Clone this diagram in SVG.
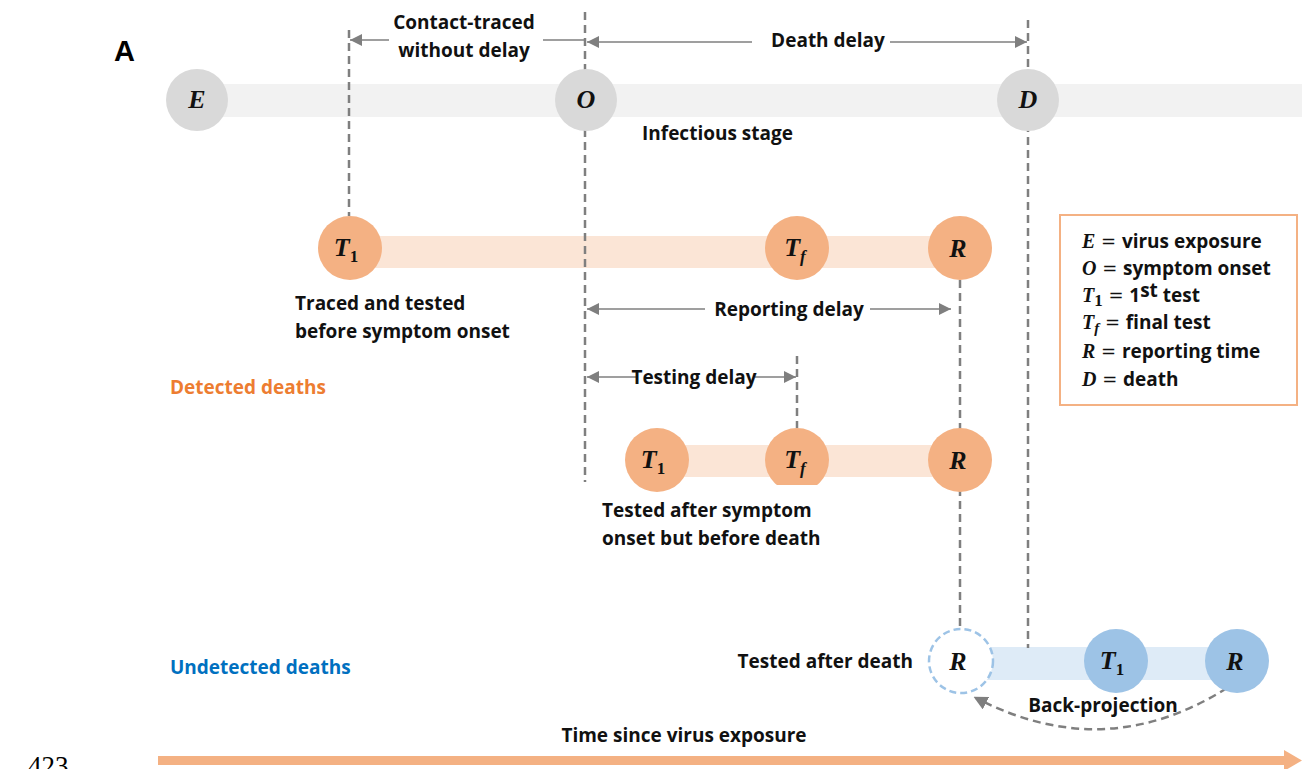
<svg xmlns="http://www.w3.org/2000/svg" width="1302" height="769" viewBox="0 0 1302 769">
<style>
.lbl{font-family:"Open Sans","Liberation Sans",sans-serif;font-weight:bold;font-size:19px;fill:#111}
.m{font-family:"Liberation Serif",serif;font-style:italic;font-weight:bold;font-size:26px;fill:#111}
.ms{font-family:"Liberation Serif",serif;font-style:normal;font-weight:bold;font-size:17px;fill:#111}
.mf{font-family:"Liberation Serif",serif;font-style:italic;font-weight:bold;font-size:17px;fill:#111}
.lm{font-family:"Liberation Serif",serif;font-style:italic;font-weight:bold;font-size:20px;fill:#111}
.eq{font-family:"DejaVu Serif",serif;font-size:18px;fill:#111}
.dash{stroke:#7f7f7f;stroke-width:2.5;stroke-dasharray:8 5;fill:none}
.arr{stroke:#7f7f7f;stroke-width:1.3;fill:none}
.gray{fill:#d9d9d9}
.org{fill:#f4b183}
.blu{fill:#9dc3e6}
</style>
<defs>
<marker id="ah" viewBox="0 0 10 10" refX="10" refY="5" markerWidth="13" markerHeight="12" markerUnits="userSpaceOnUse" orient="auto-start-reverse">
<path d="M0,0 L10,5 L0,10 z" fill="#7f7f7f"/>
</marker>
<marker id="ahb" viewBox="0 0 10 10" refX="8" refY="5" markerWidth="14" markerHeight="14" markerUnits="userSpaceOnUse" orient="auto">
<path d="M0,0 L10,5 L0,10 z" fill="#7f7f7f"/>
</marker>
<clipPath id="cut"><rect x="760" y="420" width="80" height="65"/></clipPath>
</defs>

<text x="114" y="61" font-family="Liberation Sans,Arial,sans-serif" font-weight="bold" font-size="29" fill="#000">A</text>

<g id="bars">
<rect x="197" y="84" width="1105" height="33" fill="#f2f2f2"/>
<rect x="350" y="236" width="610" height="32" fill="#fbe5d6"/>
<rect x="657" y="445" width="303" height="32" fill="#fbe5d6"/>
<rect x="960" y="647" width="277" height="33" fill="#deebf7"/>
</g>

<g id="connectors">
<line class="dash" x1="349" y1="30" x2="349" y2="216"/>
<line class="dash" x1="585" y1="12" x2="585" y2="482"/>
<line class="dash" x1="1028" y1="20" x2="1028" y2="648"/>
<line class="dash" x1="960" y1="280" x2="960" y2="630"/>
<line class="dash" x1="797" y1="356" x2="797" y2="428"/>
<line class="arr" x1="389" y1="40" x2="350" y2="40" marker-end="url(#ah)"/>
<line class="arr" x1="543" y1="40" x2="585" y2="40"/>
<line class="arr" x1="752" y1="42" x2="587" y2="42" marker-end="url(#ah)"/>
<line class="arr" x1="890" y1="42" x2="1027" y2="42" marker-end="url(#ah)"/>
<line class="arr" x1="705" y1="309" x2="587" y2="309" marker-end="url(#ah)"/>
<line class="arr" x1="870" y1="309" x2="951" y2="309" marker-end="url(#ah)"/>
<line class="arr" x1="636" y1="377" x2="587" y2="377" marker-end="url(#ah)"/>
<line class="arr" x1="755" y1="377" x2="796" y2="377" marker-end="url(#ah)"/>
<path class="dash" d="M1227,688 Q1105,765 976,698" marker-end="url(#ahb)"/>
<line x1="158" y1="760.5" x2="1286" y2="760.5" stroke="#f4b183" stroke-width="9"/>
<path d="M1284,750 L1302,760.5 L1284,771 z" fill="#f4b183"/>
</g>

<g id="node-E"><circle class="gray" cx="197" cy="100" r="31"/><text class="m" x="197" y="108" text-anchor="middle">E</text></g>
<g id="node-O"><circle class="gray" cx="586" cy="100" r="31"/><text class="m" x="586" y="108" text-anchor="middle">O</text></g>
<g id="node-D"><circle class="gray" cx="1028" cy="100" r="31"/><text class="m" x="1028" y="108" text-anchor="middle">D</text></g>

<g id="node-T1a"><circle class="org" cx="350" cy="248" r="32"/><text class="m" x="346" y="256" text-anchor="middle">T<tspan class="ms" dy="6">1</tspan></text></g>
<g id="node-Tfa"><circle class="org" cx="797" cy="248" r="32"/><text class="m" x="795" y="256" text-anchor="middle">T<tspan class="mf" dy="6">f</tspan></text></g>
<g id="node-Ra"><circle class="org" cx="960" cy="248" r="32"/><text class="m" x="958" y="257" text-anchor="middle">R</text></g>

<g id="node-T1b"><circle class="org" cx="657" cy="460" r="32"/><text class="m" x="653" y="468" text-anchor="middle">T<tspan class="ms" dy="6">1</tspan></text></g>
<g id="node-Tfb"><circle class="org" cx="797" cy="460" r="32" clip-path="url(#cut)"/><text class="m" x="795" y="468" text-anchor="middle">T<tspan class="mf" dy="6">f</tspan></text></g>
<g id="node-Rb"><circle class="org" cx="960" cy="460" r="32"/><text class="m" x="958" y="469" text-anchor="middle">R</text></g>

<g id="node-Rc"><circle cx="961" cy="661" r="32" fill="#fff" stroke="#9dc3e6" stroke-width="2.5" stroke-dasharray="7 4"/><text class="m" x="958" y="670" text-anchor="middle">R</text></g>
<g id="node-T1c"><circle class="blu" cx="1116" cy="661" r="32"/><text class="m" x="1112" y="669" text-anchor="middle">T<tspan class="ms" dy="6">1</tspan></text></g>
<g id="node-Rd"><circle class="blu" cx="1237" cy="661" r="32"/><text class="m" x="1235" y="670" text-anchor="middle">R</text></g>

<g id="labels">
<text class="lbl" x="464" y="29" text-anchor="middle">Contact-traced</text>
<text class="lbl" x="464" y="57" text-anchor="middle">without delay</text>
<text class="lbl" x="828" y="47" text-anchor="middle">Death delay</text>
<text class="lbl" x="642" y="140">Infectious stage</text>
<text class="lbl" x="295" y="310">Traced and tested</text>
<text class="lbl" x="295" y="338">before symptom onset</text>
<text class="lbl" x="789" y="316" text-anchor="middle">Reporting delay</text>
<text class="lbl" x="170" y="394" style="fill:#ed7d31">Detected deaths</text>
<text class="lbl" x="694" y="384" text-anchor="middle">Testing delay</text>
<text class="lbl" x="602" y="517">Tested after symptom</text>
<text class="lbl" x="602" y="545">onset but before death</text>
<text class="lbl" x="913" y="668" text-anchor="end">Tested after death</text>
<text class="lbl" x="170" y="674" style="fill:#0070c0">Undetected deaths</text>
<text class="lbl" x="1103" y="712" text-anchor="middle">Back-projection</text>
<text class="lbl" x="684" y="742" text-anchor="middle">Time since virus exposure</text>
<text x="28" y="775" font-family="Liberation Serif,serif" font-size="27" fill="#000">423</text>
</g>

<g id="legend">
<rect x="1060" y="215" width="237" height="190" fill="#fff" stroke="#f4b183" stroke-width="2"/>
<text x="1082" y="248"><tspan class="lm">E</tspan><tspan class="eq"> = </tspan><tspan class="lbl">virus exposure</tspan></text>
<text x="1082" y="275"><tspan class="lm">O</tspan><tspan class="eq"> = </tspan><tspan class="lbl">symptom onset</tspan></text>
<text x="1082" y="302"><tspan class="lm">T</tspan><tspan class="ms" font-size="15" dy="4">1</tspan><tspan class="eq" dy="-4"> = </tspan><tspan class="lbl">1</tspan><tspan class="lbl" font-size="11" dy="-5">st</tspan><tspan class="lbl" dy="5"> test</tspan></text>
<text x="1082" y="329"><tspan class="lm">T</tspan><tspan class="mf" dy="4" style="font-size:15px">f</tspan><tspan class="eq" dy="-4"> = </tspan><tspan class="lbl">final test</tspan></text>
<text x="1082" y="358"><tspan class="lm">R</tspan><tspan class="eq"> = </tspan><tspan class="lbl">reporting time</tspan></text>
<text x="1082" y="386"><tspan class="lm">D</tspan><tspan class="eq"> = </tspan><tspan class="lbl">death</tspan></text>
</g>
</svg>
